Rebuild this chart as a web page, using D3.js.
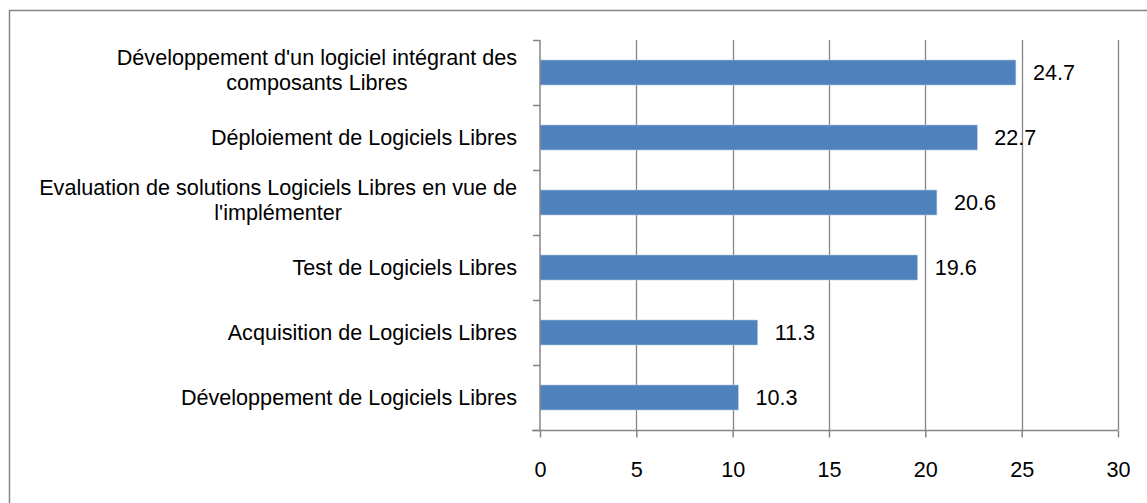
<!DOCTYPE html>
<html>
<head>
<meta charset="utf-8">
<script src="https://cdn.jsdelivr.net/npm/d3@7"></script>
<style>
  body { margin: 0; background: #fff; }
  text { font-family: "Liberation Sans", Arial, sans-serif; fill: #000; }
</style>
</head>
<body>
<div id="canvas"></div>
<script>
// categories top to bottom, "\n" = where the line wraps
const categories = [
    "Développement d'un logiciel intégrant des\ncomposants Libres",
    "Déploiement de Logiciels Libres",
    "Evaluation de solutions Logiciels Libres en vue de\nl'implémenter",
    "Test de Logiciels Libres",
    "Acquisition de Logiciels Libres",
    "Développement de Logiciels Libres"
];
const values = [24.7, 22.7, 20.6, 19.6, 11.3, 10.3];
const xTicks = [0, 5, 10, 15, 20, 25, 30];

const width = 1147;
const height = 503;
const marginTop = 40;
const marginBottom = 73;   // axis at y=430
const marginLeft = 540;
const marginRight = 29;    // 30 at x=1118
const fontSize = 21.6;
const gridColor = "#868686";

const data = categories.map((c, i) => ({ cat: c, value: values[i] }));

const x = d3.scaleLinear()
    .domain([0, 30])
    .range([marginLeft, width - marginRight]);

const y = d3.scaleBand()
    .domain(categories)
    .range([marginTop, height - marginBottom])
    .paddingInner(0.615)
    .paddingOuter(0.3075);

const svg = d3.select("#canvas")
    .append("svg")
    .attr("width", width)
    .attr("height", height)
    .attr("viewBox", [0, 0, width, height]);

// chart frame (only top and left edges are in view)
svg.append("rect")
    .attr("x", 9.5)
    .attr("y", 10.5)
    .attr("width", 1200)
    .attr("height", 600)
    .attr("fill", "none")
    .attr("stroke", gridColor)
    .attr("stroke-width", 1.5);

// vertical gridlines
svg.append("g")
    .selectAll("line")
    .data(xTicks.slice(1))
    .join("line")
        .attr("x1", d => Math.round(x(d)) + 0.5)
        .attr("x2", d => Math.round(x(d)) + 0.5)
        .attr("y1", marginTop)
        .attr("y2", height - marginBottom)
        .attr("stroke", gridColor)
        .attr("stroke-width", 1.3);

// bars
svg.append("g")
    .selectAll("rect")
    .data(data)
    .join("rect")
        .attr("x", x(0))
        .attr("y", d => y(d.cat))
        .attr("width", d => x(d.value) - x(0))
        .attr("height", y.bandwidth())
        .attr("fill", "#4f81bd")
        .attr("stroke", "#b9cde5")
        .attr("stroke-width", 0.6);

// x axis
svg.append("g")
    .attr("transform", `translate(0,${height - marginBottom + 0.5})`)
    .call(d3.axisBottom(x).tickValues(xTicks).tickSize(7).tickSizeOuter(0).tickPadding(0))
    .call(g => g.select(".domain").attr("d", `M${marginLeft - 8},0H${x(30)}`))
    .call(g => g.selectAll(".domain, .tick line").attr("stroke", gridColor).attr("stroke-width", 1.5))
    .call(g => g.selectAll(".tick text")
        .attr("y", 46)
        .attr("dy", null)
        .attr("font-size", fontSize)
        .attr("font-family", "Liberation Sans, Arial, sans-serif")
        .attr("fill", "#000"));

// y axis line with ticks between categories
const yStep = y.step();
const boundaries = d3.range(categories.length + 1).map(i => marginTop + i * yStep);
const yAxis = svg.append("g");
yAxis.append("line")
    .attr("x1", x(0)).attr("x2", x(0))
    .attr("y1", marginTop).attr("y2", height - marginBottom)
    .attr("stroke", gridColor)
    .attr("stroke-width", 1.5);
yAxis.selectAll(".ytick")
    .data(boundaries)
    .join("line")
        .attr("class", "ytick")
        .attr("x1", x(0) - 7).attr("x2", x(0))
        .attr("y1", d => Math.round(d) + 0.5)
        .attr("y2", d => Math.round(d) + 0.5)
        .attr("stroke", gridColor)
        .attr("stroke-width", 1.5);

// category labels (right aligned block, lines centred inside)
const lineH = 25;
const labels = svg.append("g")
    .selectAll("g")
    .data(categories)
    .join("g");

labels.each(function(d) {
    const g = d3.select(this);
    const lines = d.split("\n");
    const cy = y(d) + y.bandwidth() / 2;
    const shift = lines.length > 1 ? -3 : 0;
    const t = g.append("text")
        .attr("font-size", fontSize)
        .attr("text-anchor", "middle");
    lines.forEach((ln, i) => {
        t.append("tspan")
            .attr("y", cy + (i - (lines.length - 1) / 2) * lineH + shift)
            .attr("dy", "0.35em")
            .text(ln);
    });
    // measure widest line and place block so its right edge is at 517
    const widths = t.selectAll("tspan").nodes().map(n => n.getComputedTextLength());
    const w = d3.max(widths);
    t.selectAll("tspan").attr("x", 517 - w / 2);
});

// value labels
svg.append("g")
    .selectAll("text")
    .data(data)
    .join("text")
        .attr("x", d => x(d.value) + 17)
        .attr("y", d => y(d.cat) + y.bandwidth() / 2)
        .attr("dy", "0.35em")
        .attr("font-size", fontSize)
        .text(d => d.value);
</script>
</body>
</html>
